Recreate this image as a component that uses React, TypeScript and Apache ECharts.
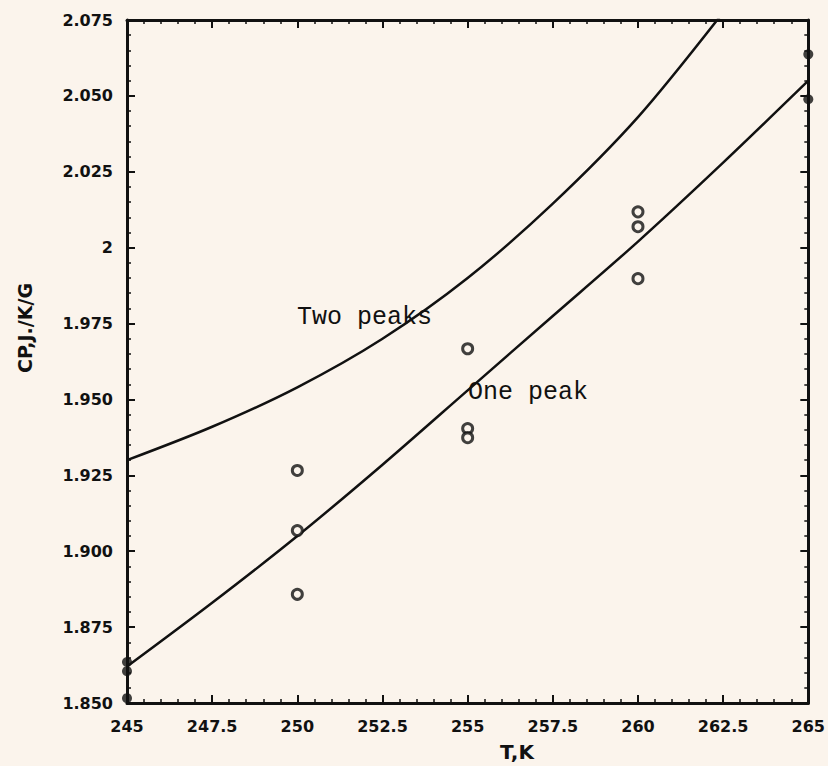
import React, { useEffect, useRef } from "react";
import * as echarts from "echarts";

const xTickLabels = ["245", "247.5", "250", "252.5", "255", "257.5", "260", "262.5", "265"];
const yTickLabels = ["1.850", "1.875", "1.900", "1.925", "1.950", "1.975", "2", "2.025", "2.050", "2.075"];

const tempOnePeak = [245, 247.5, 250, 252.5, 255, 257.5, 260, 262.5, 265];
const cpOnePeak = [1.862, 1.883, 1.905, 1.9285, 1.953, 1.9775, 2.002, 2.028, 2.055];

const tempTwoPeaks = [245, 247.5, 250, 252.5, 255, 257.5, 260, 262.5];
const cpTwoPeaks = [1.93, 1.941, 1.954, 1.97, 1.99, 2.0145, 2.043, 2.0775];

const measuredT = [250, 250, 250, 255, 255, 255, 260, 260, 260];
const measuredCp = [1.9266, 1.9068, 1.8858, 1.9667, 1.9404, 1.9374, 2.0118, 2.0069, 1.9898];

const edgeT = [245, 245, 245, 265, 265];
const edgeCp = [1.8635, 1.8605, 1.8516, 2.0637, 2.0489];

const BG = "#fbf4ec";
const INK = "#111111";
const tickFont = { fontFamily: "DejaVu Sans", fontWeight: "bold" as const, fontSize: 16, color: INK };

export default function App() {
  const ref = useRef<HTMLDivElement>(null);
  useEffect(() => {
    document.body.style.margin = "0";
    document.body.style.background = BG;
    if (!ref.current) return;
    const chart = echarts.init(ref.current, null, { renderer: "svg" });
    const axisCommon = {
      type: "value" as const,
      axisLine: { show: true, lineStyle: { color: INK, width: 3 } },
      splitLine: { show: false },
      axisTick: { show: true, inside: true, length: 8, lineStyle: { color: INK, width: 2 } },
      minorTick: { show: true, splitNumber: 5, length: 4, lineStyle: { color: INK, width: 1.5 } },
    };
    chart.setOption({
      animation: false,
      backgroundColor: BG,
      grid: { left: 127, right: 16, top: 20, bottom: 63 },
      xAxis: [
        {
          ...axisCommon,
          position: "bottom",
          min: 245,
          max: 265,
          interval: 2.5,
          axisLabel: {
            ...tickFont,
            margin: 15,
            formatter: (v: number) => xTickLabels[Math.round((v - 245) / 2.5)] ?? "",
          },
        },
        {
          ...axisCommon,
          position: "top",
          min: 245,
          max: 265,
          interval: 2.5,
          axisLabel: { show: false },
        },
      ],
      yAxis: [
        {
          ...axisCommon,
          position: "left",
          min: 1.85,
          max: 2.075,
          interval: 0.025,
          axisLabel: {
            ...tickFont,
            margin: 14,
            formatter: (v: number) => yTickLabels[Math.round((v - 1.85) / 0.025)] ?? "",
          },
        },
        {
          ...axisCommon,
          position: "right",
          min: 1.85,
          max: 2.075,
          interval: 0.025,
          axisLabel: { show: false },
        },
      ],
      series: [
        {
          type: "line",
          name: "One peak",
          data: tempOnePeak.map((t, i) => [t, cpOnePeak[i]]),
          smooth: 0.3,
          symbol: "none",
          clip: true,
          lineStyle: { color: INK, width: 2.5 },
        },
        {
          type: "line",
          name: "Two peaks",
          data: tempTwoPeaks.map((t, i) => [t, cpTwoPeaks[i]]),
          smooth: 0.3,
          symbol: "none",
          clip: true,
          lineStyle: { color: INK, width: 2.5 },
        },
        {
          type: "scatter",
          data: measuredT.map((t, i) => [t, measuredCp[i]]),
          symbol: "circle",
          symbolSize: 10,
          itemStyle: { color: BG, borderColor: INK, borderWidth: 3 },
          z: 5,
        },
        {
          type: "scatter",
          data: edgeT.map((t, i) => [t, edgeCp[i]]),
          symbol: "circle",
          symbolSize: 10,
          itemStyle: { color: INK },
          z: 5,
        },
      ],
      graphic: [
        {
          type: "text",
          x: 297,
          y: 317,
          style: {
            text: "Two peaks",
            font: "25px 'Liberation Mono', 'DejaVu Sans Mono', monospace",
            fill: INK,
            verticalAlign: "middle",
            align: "left",
          },
          z: 10,
        },
        {
          type: "text",
          x: 468,
          y: 392,
          style: {
            text: "One peak",
            font: "25px 'Liberation Mono', 'DejaVu Sans Mono', monospace",
            fill: INK,
            verticalAlign: "middle",
            align: "left",
          },
          z: 10,
        },
        {
          type: "text",
          x: 25,
          y: 328,
          rotation: Math.PI / 2,
          style: {
            text: "CP,J./K/G",
            font: "bold 19px 'DejaVu Sans'",
            fill: INK,
            verticalAlign: "middle",
            align: "center",
          },
        },
        {
          type: "text",
          x: 517,
          y: 752,
          style: {
            text: "T,K",
            font: "bold 20px 'DejaVu Sans'",
            fill: INK,
            verticalAlign: "middle",
            align: "center",
          },
        },
      ],
    });
    return () => chart.dispose();
  }, []);
  return (
    <div
      ref={ref}
      style={{ position: "absolute", left: 0, top: 0, width: 828, height: 766, background: BG }}
    />
  );
}
